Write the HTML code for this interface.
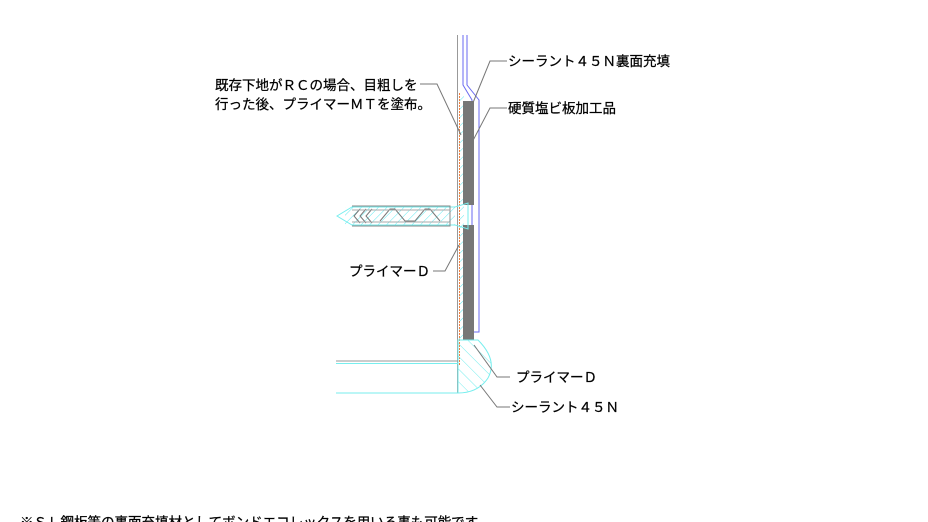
<!DOCTYPE html>
<html><head><meta charset="utf-8"><style>
html,body{margin:0;padding:0;background:#fff;}
svg{display:block}
text{font-family:"Liberation Sans","Noto Sans CJK JP",sans-serif;font-size:13.5px;fill:#000;stroke:#000;stroke-width:0.25}
</style></head><body>
<svg width="928" height="522" viewBox="0 0 928 522" xmlns="http://www.w3.org/2000/svg">
<defs>
<pattern id="h" width="6" height="6" patternUnits="userSpaceOnUse" patternTransform="rotate(45)">
<line x1="0" y1="0" x2="0" y2="6" stroke="#5ee8f0" stroke-width="1"/>
</pattern>
<pattern id="h2" width="9" height="9" patternUnits="userSpaceOnUse" patternTransform="rotate(-45)">
<line x1="0" y1="0" x2="0" y2="9" stroke="#7ee" stroke-width="1"/>
</pattern>
</defs>
<line x1="457.5" y1="35" x2="457.5" y2="393" stroke="#999" stroke-width="1"/>
<path d="M463 35 V85 L472 100 V332" fill="none" stroke="#6a6af0" stroke-width="1"/>
<path d="M467 35 V85 L479 100 V332 H474" fill="none" stroke="#6a6af0" stroke-width="1"/>
<rect x="459" y="93" width="5" height="247" fill="url(#h)"/>
<line x1="459.5" y1="93" x2="459.5" y2="365" stroke="#f08040" stroke-width="1" stroke-dasharray="2,1"/>
<rect x="463" y="101" width="11" height="104" fill="#777"/>
<rect x="463" y="225" width="11" height="115" fill="#777"/>
<path d="M458 340 H478 Q498 360 488 378 Q478 393 458 393 Z" fill="url(#h2)" stroke="#7ee" stroke-width="1"/>
<line x1="336" y1="361" x2="458" y2="361" stroke="#999"/>
<line x1="336" y1="363.5" x2="458" y2="363.5" stroke="#7ee"/>
<line x1="336" y1="393" x2="458" y2="393" stroke="#7ee"/>
<g fill="none" stroke-width="1">
<rect x="345" y="207" width="110" height="18" fill="url(#h)" stroke="none"/>
<path d="M337 216 L352 207 H455 L468 203 V229 L455 225 H352 Z" stroke="#7ee"/>
<path d="M352 206 H450 V226 H352" stroke="#888"/>
<path d="M360 209 L354 216 L360 223 M366 209 L360 216 L366 223 M372 209 L366 216 L372 223 M380 221 L390 209 H395 L405 221 H415 L425 209 H430 L440 221" stroke="#777"/>
<line x1="352" y1="210" x2="450" y2="210" stroke="#aaa"/>
<line x1="352" y1="222" x2="450" y2="222" stroke="#aaa"/>
</g>
<g fill="none" stroke="#777" stroke-width="1">
<polyline points="507,61 490,61 468,115"/>
<polyline points="507,108 490,108 468,150"/>
<polyline points="420,84 437,84 461,135"/>
<polyline points="433,271 445,271 459,245"/>
<polyline points="510,377 497,377 474,345"/>
<polyline points="510,407 497,407 480,385"/>
</g>
<text x="508" y="66">シーラント４５Ｎ裏面充填</text>
<text x="508" y="113">硬質塩ビ板加工品</text>
<text x="215" y="90">既存下地がＲＣの場合、目粗しを</text>
<text x="215" y="109">行った後、プライマーＭＴを塗布。</text>
<text x="349" y="276">プライマーＤ</text>
<text x="516" y="382">プライマーＤ</text>
<text x="511" y="412">シーラント４５Ｎ</text>
<text x="20" y="527">※ＳＬ鋼板等の裏面充填材としてボンドエコレックスを用いる事も可能です。</text>
</svg>
</body></html>
